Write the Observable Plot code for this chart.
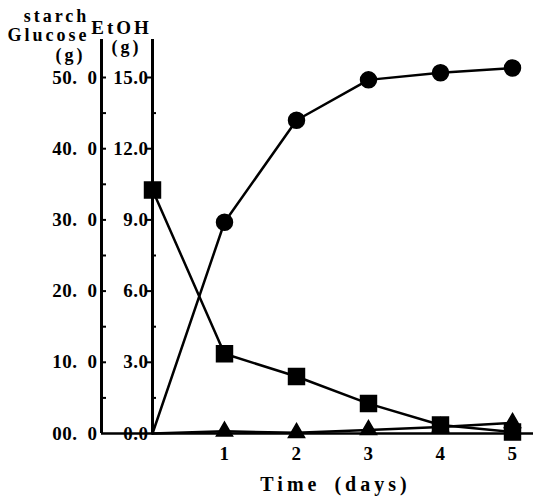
<!DOCTYPE html>
<html><head><meta charset="utf-8">
<script src="https://cdn.jsdelivr.net/npm/d3@7"></script>
<script src="https://cdn.jsdelivr.net/npm/@observablehq/plot@0.6"></script>
<style>
body{margin:0;background:#fff;}
#chart svg{display:block;background:#fff;}
</style></head><body><div id="chart"></div>
<script>
// ---- data ----
const days = [0, 1, 2, 3, 4, 5];
const ethanol = [0, 8.9, 13.2, 14.9, 15.2, 15.4];   // g, right-hand axis (EtOH)
const starch  = [34.2, 11.2, 8.0, 4.2, 1.2, 0.2];   // g, left-hand axis
const glucose = [0, 0.3, 0.1, 0.5, 0.9, 1.5];      // g, left-hand axis
const gTicks = [0, 10, 20, 30, 40, 50];
const gTickLabels = ["00.\u20020", "10.\u20020", "20.\u20020", "30.\u20020", "40.\u20020", "50.\u20020"];
const eTicks = [0, 3, 6, 9, 12, 15];
const eTickLabels = ["0.0", "3.0", "6.0", "9.0", "12.0", "15.0"];
const xTicks = [1, 2, 3, 4, 5];
const xTickLabels = ["1", "2", "3", "4", "5"];
const gTitle = ["starch", "Glucose", "(g)"];
const eTitle = ["EtOH", "(g)"];
const xTitle = "Time\u2002(days)";

// ---- layout ----
const W = 533, H = 496;
const frameLeft = 101, frameRight = 533, frameTop = 77, frameBottom = 433;
const day0 = 152, pxPerDay = 72;
const xDomain = [(frameLeft - day0) / pxPerDay, (frameRight - day0) / pxPerDay];
const k = 15 / 50; // grams on left axis -> EtOH axis units
const axisTop = 16.6;
const FONT = "Liberation Serif";

const rows = (vals, f = 1) => days.map((d, i) => ({day: d, v: vals[i] * f}));
const eData = rows(ethanol), sData = rows(starch, k), glData = rows(glucose, k);

const gMinor = d3.range(5, 51, 5).map(v => v * k);
const eMinor = d3.range(1.5, 15, 3);

const txt = {fontFamily: FONT, fontWeight: "bold", fill: "black"};
const ttl = {frameAnchor: "top-left", textAnchor: "middle", lineAnchor: "middle", ...txt};

const plot = Plot.plot({
  width: W, height: H,
  marginLeft: frameLeft, marginRight: W - frameRight, marginTop: frameTop, marginBottom: H - frameBottom,
  x: {domain: xDomain, axis: null},
  y: {domain: [0, 15], axis: null},
  marks: [
    // axis lines
    Plot.ruleX([xDomain[0]], {y1: 0, y2: axisTop, stroke: "black", strokeWidth: 3}),
    Plot.ruleX([0], {y1: 0, y2: axisTop, stroke: "black", strokeWidth: 3}),
    Plot.ruleY([0], {stroke: "black", strokeWidth: 2.5}),
    // ticks
    Plot.ruleY(gMinor, {x1: xDomain[0], x2: xDomain[0] + 5 / pxPerDay, stroke: "black", strokeWidth: 2}),
    Plot.ruleY(eTicks.slice(1), {x1: -6 / pxPerDay, x2: 0, stroke: "black", strokeWidth: 2}),
    Plot.ruleY(eMinor, {x1: 0, x2: 4 / pxPerDay, stroke: "black", strokeWidth: 2}),
    // tick labels
    Plot.text(gTicks, {x: xDomain[0], y: d => d * k, text: (d, i) => gTickLabels[i], textAnchor: "end", dx: -4, fontSize: 19, ...txt}),
    Plot.text(eTicks, {x: 0, y: d => d, text: (d, i) => eTickLabels[i], textAnchor: "end", dx: -4, fontSize: 19, ...txt}),
    Plot.text(xTicks, {x: d => d, y: 0, dy: 20, text: (d, i) => xTickLabels[i], fontSize: 19, ...txt}),
    // axis titles
    Plot.text([gTitle[0]], {...ttl, dx: -45, dy: -61, fontSize: 18}),
    Plot.text([gTitle[1]], {...ttl, dx: -53, dy: -42, fontSize: 18}),
    Plot.text([gTitle[2]], {...ttl, dx: -31, dy: -22, fontSize: 18}),
    Plot.text([eTitle[0]], {...ttl, dx: 20, dy: -50, fontSize: 19}),
    Plot.text([eTitle[1]], {...ttl, dx: 25, dy: -30, fontSize: 18}),
    Plot.text([xTitle], {frameAnchor: "bottom", textAnchor: "middle", lineAnchor: "middle", dx: 18, dy: 51, fontSize: 20, ...txt}),
    // series
    Plot.line(eData, {x: "day", y: "v", stroke: "black", strokeWidth: 2.5}),
    Plot.line(sData, {x: "day", y: "v", stroke: "black", strokeWidth: 2.5}),
    Plot.line(glData, {x: "day", y: "v", stroke: "black", strokeWidth: 2.5}),
    Plot.dot(eData.filter(d => d.day > 0), {x: "day", y: "v", r: 8, fill: "black", stroke: "black"}),
    Plot.dot(sData, {x: "day", y: "v", symbol: "square", r: 9, fill: "black", stroke: "black"}),
    Plot.dot(glData.filter(d => d.day > 0), {x: "day", y: "v", symbol: "triangle", r: 6, fill: "black", stroke: "black"})
  ]
});

// letter spacing tweaks
const titles = new Set([...gTitle, ...eTitle]);
d3.select(plot).selectAll("text").each(function () {
  const t = this.textContent;
  if (titles.has(t)) this.style.letterSpacing = "3px";
  else if (t === xTitle) this.style.letterSpacing = "4px";
  else this.style.letterSpacing = "0.5px";
});
document.getElementById("chart").append(plot);
</script>
</body></html>
